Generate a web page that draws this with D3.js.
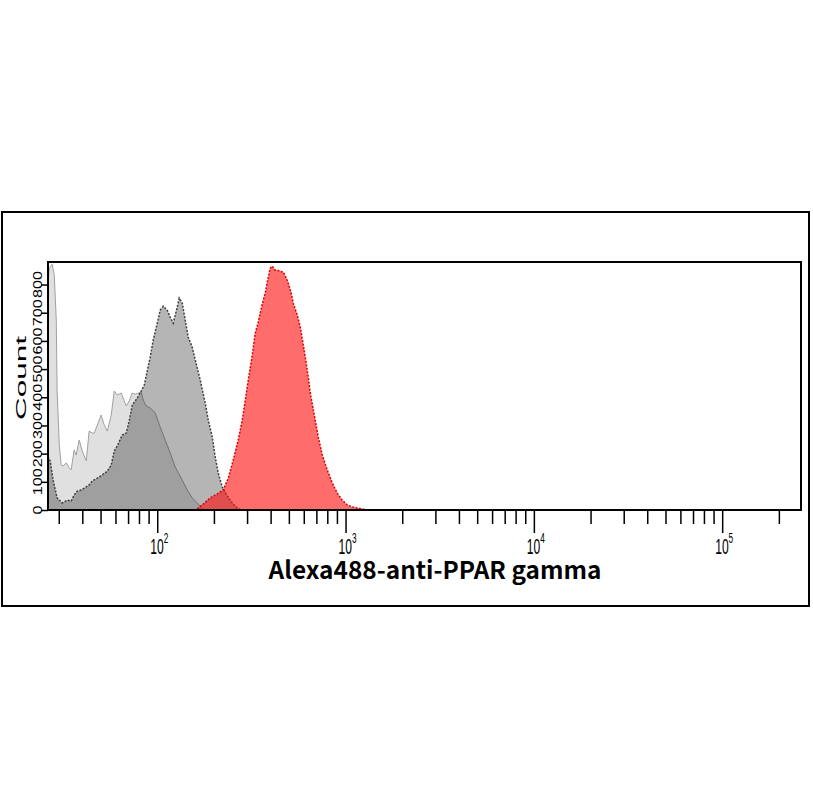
<!DOCTYPE html>
<html>
<head>
<meta charset="utf-8">
<script src="https://cdn.jsdelivr.net/npm/d3@7"></script>
<style>
  body { margin: 0; background: #fff; }
  svg { display: block; }
</style>
</head>
<body>
<svg id="chart" width="813" height="812"></svg>
<script>
// histogram data (x = intensity, count per bin)
var lightX = [26.3, 26.7, 27.7, 28.4, 29.1, 29.4, 30.2, 30.9, 31.7, 32.9, 34.1, 34.9, 36.2, 37.1, 38.5, 40.0, 42.0, 43.5, 45.2, 46.3, 48.0, 50.4, 52.3, 54.3, 57.0, 59.1, 61.3, 64.4, 66.8, 68.5, 71.0, 73.7, 76.4, 79.3, 82.2, 84.3, 87.4, 91.8, 97.6, 103.7, 110.3, 117.2, 124.6, 135.8, 144.3, 153.4, 163.1, 173.4];
var lightCount = [800, 858, 872, 833, 674, 422, 230, 160, 156, 167, 149, 142, 213, 195, 248, 209, 174, 280, 273, 273, 301, 337, 301, 280, 337, 422, 408, 415, 387, 369, 387, 415, 411, 415, 418, 390, 369, 362, 344, 294, 248, 202, 152, 106, 71, 43, 25, 4];

var grayX = [26.3, 27.0, 28.0, 29.4, 31.3, 33.3, 34.9, 36.2, 37.6, 39.5, 41.0, 43.5, 45.2, 48.0, 51.0, 54.3, 57.0, 59.1, 61.3, 65.2, 68.5, 71.0, 73.7, 78.3, 82.2, 85.3, 88.5, 91.8, 95.2, 100, 103.7, 107.6, 113.0, 117.2, 121.6, 127.7, 130.9, 135.8, 140.8, 146.1, 153.4, 159.2, 169.2, 179.8, 186.6, 196.0, 203.2, 210.9, 221.4, 235.4, 250.2, 266.0, 279.3];
var grayCount = [190, 174, 106, 43, 25, 35, 32, 53, 67, 71, 78, 89, 103, 113, 124, 138, 160, 209, 227, 266, 273, 316, 372, 397, 422, 443, 493, 543, 603, 663, 709, 723, 709, 684, 663, 720, 752, 734, 674, 613, 578, 532, 461, 379, 319, 259, 188, 131, 82, 50, 25, 7, 0];

var redX = [163.1, 175.5, 191.2, 208.3, 224.2, 238.3, 253.3, 269.2, 282.8, 293.4, 304.4, 319.6, 331.6, 344.0, 352.4, 365.6, 374.6, 383.9, 398.2, 408.1, 423.4, 434.0, 450.2, 467.0, 484.5, 496.4, 515.0, 527.7, 554.1, 574.9, 596.4, 611.1, 633.9, 649.6, 682.2, 716.4, 752.2, 799.7, 850.2, 903.6, 960.5, 1021, 1085, 1154, 1227, 1288];
var redCount = [4, 21, 43, 57, 71, 113, 177, 248, 319, 390, 461, 550, 628, 667, 699, 745, 769, 808, 858, 865, 851, 851, 847, 844, 823, 805, 769, 734, 691, 649, 585, 543, 472, 415, 337, 259, 195, 142, 96, 60, 35, 18, 11, 7, 4, 0];

var yTicks = [0, 100, 200, 300, 400, 500, 600, 700, 800];
var majorTicks = [100, 1000, 10000, 100000];
var majorExp = ["2", "3", "4", "5"];
var minorTicks = [30, 40, 50, 60, 70, 80, 90,
  200, 300, 400, 500, 600, 700, 800, 900,
  2000, 3000, 4000, 5000, 6000, 7000, 8000, 9000,
  20000, 30000, 40000, 50000, 60000, 70000, 80000, 90000, 200000];

var svg = d3.select("#chart");
var pLeft = 48, pRight = 801, pTop = 262, pBottom = 510;

var x = d3.scaleLog().domain([26.3, 262144]).range([pLeft, pRight]);
var y = d3.scaleLinear().domain([0, 880]).range([pBottom, pTop]);

// outer frame
svg.append("rect")
  .attr("x", 2).attr("y", 212).attr("width", 807).attr("height", 394)
  .attr("fill", "#fff").attr("stroke", "#000").attr("stroke-width", 2);

var area = d3.area()
  .x(function(d) { return x(d[0]); })
  .y0(y(0))
  .y1(function(d) { return y(d[1]); });
var line = d3.line()
  .x(function(d) { return x(d[0]); })
  .y(function(d) { return y(d[1]); });

function drawHist(xs, cs, fill, opacity, stroke, width, dash) {
  var pts = d3.zip(xs, cs);
  svg.append("path").datum(pts)
    .attr("d", area)
    .attr("fill", fill)
    .attr("fill-opacity", opacity);
  svg.append("path").datum(pts)
    .attr("d", line)
    .attr("fill", "none")
    .attr("stroke", stroke)
    .attr("stroke-width", width)
    .attr("stroke-dasharray", dash);
}

drawHist(lightX, lightCount, "#000", 0.12, "#a0a0a0", 1, null);
drawHist(grayX, grayCount, "#000", 0.29, "#404040", 1.5, "2,1.5");
drawHist(redX, redCount, "rgb(255,10,10)", 0.6, "#dd0000", 1.5, "2,1.5");

// plot frame
svg.append("rect")
  .attr("x", pLeft).attr("y", pTop)
  .attr("width", pRight - pLeft).attr("height", pBottom - pTop)
  .attr("fill", "none").attr("stroke", "#000").attr("stroke-width", 2);

// y axis
var yAxis = svg.append("g")
  .attr("transform", "translate(" + pLeft + ",0)")
  .call(d3.axisLeft(y).tickValues(yTicks).tickSize(7).tickFormat(""));
yAxis.select(".domain").remove();
yAxis.selectAll("line").attr("stroke-width", 1.5);

svg.selectAll(".ylab").data(yTicks).enter().append("text")
  .attr("class", "ylab")
  .attr("transform", function(d) { return "translate(42," + y(d) + ") rotate(-90)"; })
  .attr("text-anchor", "middle")
  .attr("font-family", "Liberation Sans, Arial, sans-serif")
  .attr("font-size", 13)
  .attr("textLength", function(d) { return String(d).length * 9; })
  .attr("lengthAdjust", "spacingAndGlyphs")
  .text(function(d) { return d; });

svg.append("text")
  .attr("transform", "translate(26,378) rotate(-90)")
  .attr("text-anchor", "middle")
  .attr("font-family", "Liberation Sans, Arial, sans-serif")
  .attr("font-size", 15)
  .attr("textLength", 84)
  .attr("lengthAdjust", "spacingAndGlyphs")
  .text("Count");

// x axis ticks
var xMinor = svg.append("g")
  .attr("transform", "translate(0," + pBottom + ")")
  .call(d3.axisBottom(x).tickValues(minorTicks).tickSize(14).tickFormat(""));
xMinor.select(".domain").remove();
xMinor.selectAll("line").attr("stroke-width", 1.5);

var xMajor = svg.append("g")
  .attr("transform", "translate(0," + pBottom + ")")
  .call(d3.axisBottom(x).tickValues(majorTicks).tickSize(23).tickFormat(""));
xMajor.select(".domain").remove();
xMajor.selectAll("line").attr("stroke-width", 1.5);

var lab = svg.selectAll(".xlab").data(majorTicks).enter().append("g")
  .attr("class", "xlab")
  .attr("transform", function(d) { return "translate(" + (x(d) + 2) + ",554) scale(0.55,1)"; });
var t = lab.append("text")
  .attr("font-family", "Liberation Sans, Arial, sans-serif")
  .attr("text-anchor", "middle")
  .attr("fill", "#000")
  .attr("font-size", 22);
t.append("tspan").text("10");
t.append("tspan")
  .attr("font-size", 15)
  .attr("dy", -11)
  .text(function(d, i) { return majorExp[i]; });

svg.append("text")
  .attr("x", 435).attr("y", 579)
  .attr("text-anchor", "middle")
  .attr("font-family", "Noto Sans CJK KR, Noto Sans, sans-serif")
  .attr("font-weight", "bold")
  .attr("font-size", 24.4)
  .text("Alexa488-anti-PPAR gamma");
</script>
</body>
</html>
